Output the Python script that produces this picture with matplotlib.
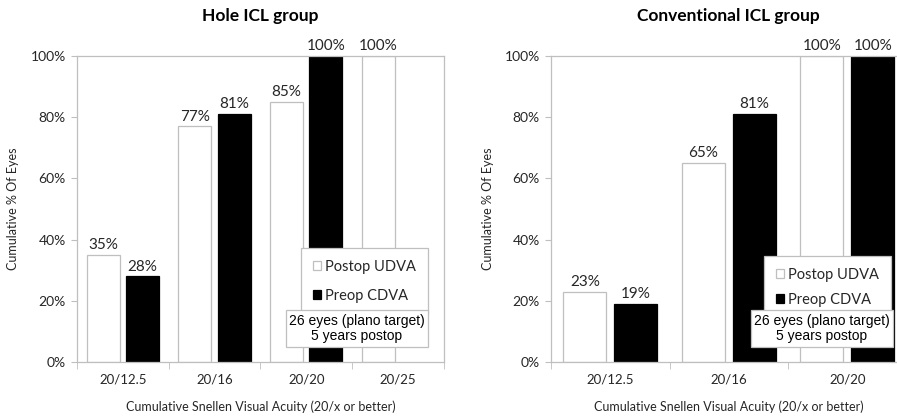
import numpy as np
import matplotlib
matplotlib.use("Agg")
import matplotlib.pyplot as plt

# data
hole_cats = ["20/12.5", "20/16", "20/20", "20/25"]
hole_udva = [35, 77, 85, 100]
hole_cdva = [28, 81, 100, np.nan]

conv_cats = ["20/12.5", "20/16", "20/20"]
conv_udva = [23, 65, 100]
conv_cdva = [19, 81, 100]

series_names = ["Postop UDVA", "Preop CDVA"]
note_text = "26 eyes (plano target)\n5 years postop"

plt.rcParams['font.family'] = ['Lato', 'DejaVu Sans']
TXT = '#262626'
EDGE = '#bfbfbf'


def draw_panel(ax, cats, udva, cdva, title, leg_anchor, leg_space, note_xy):
    x = np.arange(len(cats))
    w = 0.36
    off = 0.215
    b1 = ax.bar(x - off, udva, w, color='white', edgecolor=EDGE, linewidth=0.9,
                label=series_names[0])
    b2 = ax.bar(x + off, cdva, w, color='black', edgecolor='black', linewidth=0.9,
                label=series_names[1])
    for bars, vals in ((b1, udva), (b2, cdva)):
        for rect, v in zip(bars, vals):
            if np.isnan(v):
                continue
            ax.annotate(f"{v:.0f}%", (rect.get_x() + rect.get_width() / 2, v),
                        xytext=(0, 2), textcoords='offset points',
                        ha='center', va='bottom', fontsize=11, color=TXT,
                        annotation_clip=False)

    ax.set_xlim(-0.5, len(cats) - 0.5)
    ax.set_ylim(0, 100)
    ax.set_yticks(np.arange(0, 101, 20))
    ax.set_yticklabels([f"{v}%" for v in range(0, 101, 20)])
    ax.set_xticks(x)
    ax.set_xticklabels(cats)
    ax.set_xticks(np.arange(-0.5, len(cats), 1), minor=True)
    ax.tick_params(axis='x', which='major', length=0, pad=8, labelsize=9.5, colors=TXT)
    ax.tick_params(axis='x', which='minor', length=5, color=EDGE, direction='out')
    ax.tick_params(axis='y', length=4, color=EDGE, pad=4, labelsize=10, colors=TXT)
    for s in ax.spines.values():
        s.set_color(EDGE)
        s.set_linewidth(0.9)

    ax.set_title(title, fontsize=12.5, fontweight='bold', color='black', pad=25)
    ax.set_xlabel("Cumulative Snellen Visual Acuity (20/x or better)", fontsize=9,
                  color=TXT, labelpad=11)
    ax.set_ylabel("Cumulative % Of Eyes", fontsize=9, color=TXT, labelpad=8)

    leg = ax.legend(loc='upper right', bbox_to_anchor=leg_anchor, fontsize=10.5,
                    frameon=True, fancybox=False, edgecolor=EDGE, framealpha=1,
                    handlelength=0.55, handleheight=0.55, handletextpad=0.3,
                    labelspacing=leg_space, borderpad=0.8, borderaxespad=0)
    leg.get_frame().set_linewidth(0.9)
    leg.set_zorder(5)
    for t in leg.get_texts():
        t.set_color(TXT)

    ax.text(note_xy[0], note_xy[1], note_text, transform=ax.transAxes,
            ha='center', va='top', multialignment='center', fontsize=10,
            family='Liberation Sans', color='black', linespacing=1.15, zorder=6,
            bbox=dict(boxstyle='square,pad=0.25', facecolor='white',
                      edgecolor=EDGE, linewidth=0.9))


fig = plt.figure(figsize=(8.97, 4.2), dpi=100)
ax1 = fig.add_axes([0.0858, 0.138, 0.409, 0.729])
ax2 = fig.add_axes([0.6143, 0.138, 0.3963, 0.729])

draw_panel(ax1, hole_cats, hole_udva, hole_cdva, "Hole ICL group",
           (0.956, 0.373), 1.05, (0.763, 0.158))
draw_panel(ax2, conv_cats, conv_udva, conv_cdva, "Conventional ICL group",
           (0.955, 0.346), 0.75, (0.762, 0.158))

fig.savefig("out.png", dpi=100)
